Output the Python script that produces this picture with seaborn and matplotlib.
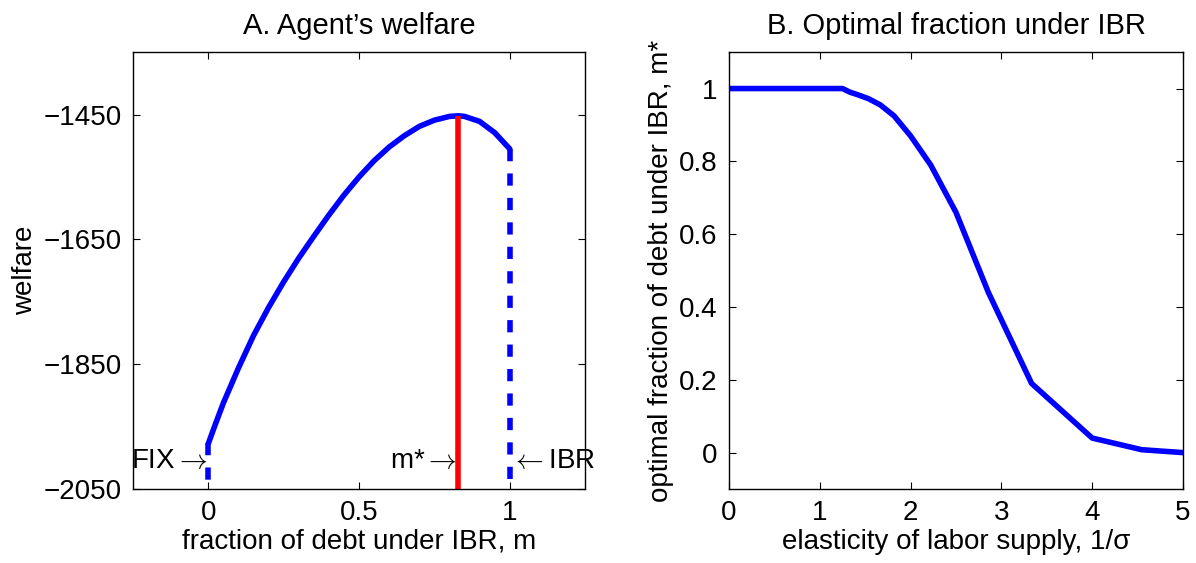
import numpy as np
import pandas as pd
import seaborn as sns
import matplotlib.pyplot as plt

# panel A: welfare as a function of the IBR share m
m_grid = [0.0, 0.025, 0.05, 0.1, 0.15, 0.2, 0.25, 0.3, 0.35, 0.4, 0.45, 0.5,
          0.55, 0.6, 0.65, 0.7, 0.75, 0.8, 0.83, 0.85, 0.9, 0.95, 1.0]
welfare = [-1977, -1944, -1912, -1856, -1804, -1759, -1718, -1680, -1645, -1611,
           -1579, -1550, -1524, -1502, -1484, -1469, -1459, -1453, -1452, -1453,
           -1461, -1479, -1505]
m_star = 0.83
welfare_ticks = [-2050, -1850, -1650, -1450]
m_ticks = [0, 0.5, 1]

# panel B: optimal fraction vs labor supply elasticity
inv_sigma = [0.0, 1.25, 1.333, 1.429, 1.538, 1.667, 1.818, 2.0, 2.222, 2.5,
             2.857, 3.333, 4.0, 4.545, 5.0]
m_opt = [1.0, 1.0, 0.99, 0.982, 0.972, 0.955, 0.925, 0.87, 0.79, 0.66,
         0.44, 0.19, 0.04, 0.008, 0.0]
frac_ticks = [0, 0.2, 0.4, 0.6, 0.8, 1]
frac_labels = ["0", "0.2", "0.4", "0.6", "0.8", "1"]
elast_ticks = [0, 1, 2, 3, 4, 5]

sns.set_style("white")
plt.rcParams['font.family'] = ['Liberation Sans', 'DejaVu Sans']
plt.rcParams['mathtext.fontset'] = 'cm'
for k in ("text.color", "axes.labelcolor", "xtick.color", "ytick.color"):
    plt.rcParams[k] = "black"
FS = 20
BLUE = (0, 0, 1)
RED = (1, 0, 0)
LW = 4

fig = plt.figure(figsize=(11.96, 5.63), dpi=100)
ax1 = fig.add_axes([0.1112, 0.1314, 0.378, 0.776])
ax2 = fig.add_axes([0.6095, 0.1314, 0.3796, 0.776])

lo = welfare_ticks[0]
df_a = pd.DataFrame({"m": m_grid, "welfare": welfare})
sns.lineplot(data=df_a, x="m", y="welfare", color=BLUE, lw=LW, ax=ax1,
             sort=False, solid_joinstyle="round")
ax1.plot([0, 0], [welfare[0], lo], color=BLUE, lw=LW, ls=(0, (2.2, 2.2)))
ax1.plot([1, 1], [welfare[-1], lo], color=BLUE, lw=LW, ls=(0, (2.2, 2.2)))
ax1.plot([m_star, m_star], [max(welfare), lo], color=RED, lw=LW, solid_capstyle="butt")

ax1.text(-0.004, -2005, r"FIX$\rightarrow$", ha="right", va="center", fontsize=FS)
ax1.text(m_star - 0.004, -2005, r"m*$\rightarrow$", ha="right", va="center", fontsize=FS)
ax1.text(1.004, -2005, r"$\leftarrow$IBR", ha="left", va="center", fontsize=FS)

ax1.set_xlim(-0.25, 1.25)
ax1.set_ylim(-2050, -1350)
ax1.set_xticks(m_ticks)
ax1.set_xticklabels(["0", "0.5", "1"])
ax1.set_yticks(welfare_ticks)
ax1.set_title("A. Agent\u2019s welfare", fontsize=FS + 1, pad=13)
ax1.set_xlabel("fraction of debt under IBR, m", fontsize=FS, labelpad=2)
ax1.set_ylabel("welfare", fontsize=FS)

df_b = pd.DataFrame({"inv_sigma": inv_sigma, "m_opt": m_opt})
sns.lineplot(data=df_b, x="inv_sigma", y="m_opt", color=BLUE, lw=LW, ax=ax2,
             solid_joinstyle="round")
ax2.set_xlim(0, 5)
ax2.set_ylim(-0.1, 1.1)
ax2.set_xticks(elast_ticks)
ax2.set_yticks(frac_ticks)
ax2.set_yticklabels(frac_labels)
ax2.set_title("B. Optimal fraction under IBR", fontsize=FS + 1, pad=13)
ax2.set_xlabel("elasticity of labor supply, 1/\u03c3", fontsize=FS, labelpad=2)
ax2.set_ylabel("optimal fraction of debt under IBR, m*", fontsize=FS)

for ax in (ax1, ax2):
    for s in ax.spines.values():
        s.set_visible(True)
        s.set_color("black")
        s.set_linewidth(1.0)
    ax.tick_params(direction="in", length=5, width=0.8, top=True, right=True,
                   bottom=True, left=True, labelsize=FS, pad=8, colors="black")
    ax.grid(False)

fig.savefig("out.png", dpi=100)
